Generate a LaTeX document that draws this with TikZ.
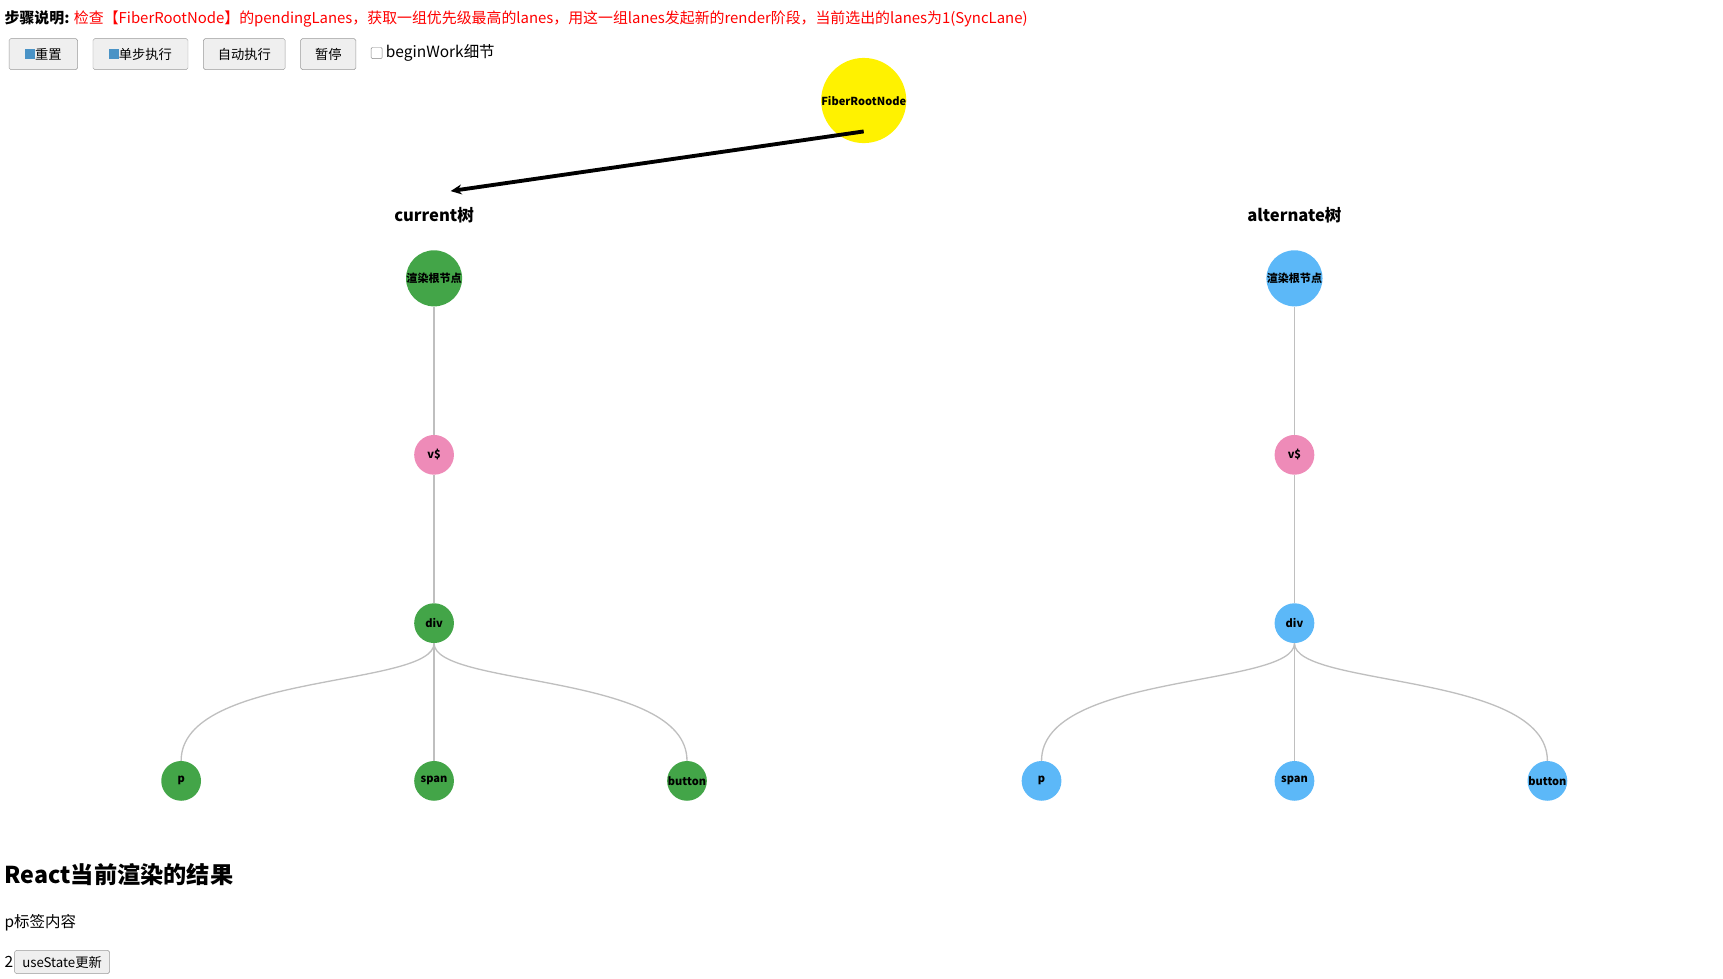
\documentclass[tikz,border=0pt]{standalone}
\usepackage{fontspec}
\setmainfont{Noto Sans CJK SC}
\usepackage{tikz}
\usetikzlibrary{positioning,arrows.meta}
\definecolor{curgreen}{HTML}{43A548}
\definecolor{altblue}{HTML}{5CB8F8}
\definecolor{vpink}{HTML}{EE8BB8}
\definecolor{btngray}{HTML}{EFEFEF}

\begin{document}
\begin{tikzpicture}[x=1pt,y=-1pt,
  fiber/.style={circle,minimum size=36pt,inner sep=0pt,font=\fontsize{10}{12}\selectfont\bfseries},
  treelabel/.style={font=\fontsize{15}{18}\selectfont\bfseries},
  btn/.style={draw=gray!80,fill=btngray,rounded corners=1.5pt,minimum height=28pt,inner sep=0pt,font=\fontsize{12}{14}\selectfont},
  link/.style={draw=gray!50,line width=1.2pt}]
\useasboundingbox (0,0) rectangle (1560,886);

% header
\node[anchor=west,inner sep=0pt,font=\fontsize{13.5}{16}\selectfont] (step) at (4,17)
  {\textbf{步骤说明:} \textcolor{red}{检查【FiberRootNode】的pendingLanes，获取一组优先级最高的lanes，用这一组lanes发起新的render阶段，当前选出的lanes为1(SyncLane)}};
\node[btn,minimum width=62pt,anchor=west] (reset) at (8,49) {\textcolor{altblue!80!black}{\rule{9pt}{9pt}}重置};
\node[btn,minimum width=86pt,anchor=west] (single) at (84,49) {\textcolor{altblue!80!black}{\rule{9pt}{9pt}}单步执行};
\node[btn,minimum width=74pt,anchor=west] (auto) at (184,49) {自动执行};
\node[btn,minimum width=50pt,anchor=west] (pause) at (272,49) {暂停};
\node[draw=gray,rounded corners=1pt,minimum size=10pt,inner sep=0pt] (chk) at (341,48) {};
\node[anchor=west,inner sep=0pt,font=\fontsize{14}{16}\selectfont,right=3pt of chk] (detail) {beginWork细节};

% fiber root
\node[fiber,fill=yellow] (root) at (782,91) {FiberRootNode};
\coordinate (rootbot) at (782,119);
\coordinate (curtop) at (408,173);
\draw[line width=3.5pt,-{Stealth[length=10pt,width=9pt]}] (rootbot) -- (curtop);

% current tree
\node[treelabel] (curlbl) at (393,195) {current树};
\node[fiber,fill=curgreen] (c0) at (393,252) {渲染根节点};
\node[fiber,fill=vpink,below=116pt of c0] (c1) {v\$};
\node[fiber,fill=curgreen,below=116pt of c1] (c2) {div};
\node[fiber,fill=curgreen] (c3) at (164,707) {p};
\node[fiber,fill=curgreen] (c4) at (393,707) {span};
\node[fiber,fill=curgreen] (c5) at (622,707) {button};

% alternate tree
\node[treelabel] (altlbl) at (1172,195) {alternate树};
\node[fiber,fill=altblue] (a0) at (1172,252) {渲染根节点};
\node[fiber,fill=vpink,below=116pt of a0] (a1) {v\$};
\node[fiber,fill=altblue,below=116pt of a1] (a2) {div};
\node[fiber,fill=altblue] (a3) at (943,707) {p};
\node[fiber,fill=altblue] (a4) at (1172,707) {span};
\node[fiber,fill=altblue] (a5) at (1401,707) {button};

\foreach \t in {c,a}{
  \path[link] (\t0) -- (\t1) (\t1) -- (\t2) (\t2) -- (\t4);
  \path[link] (\t2.south) .. controls +(0,40) and +(0,-80) .. (\t3.north);
  \path[link] (\t2.south) .. controls +(0,40) and +(0,-80) .. (\t5.north);
}

% result
\node[anchor=west,inner sep=0pt,font=\fontsize{21}{24}\selectfont\bfseries] (result) at (4,792) {React当前渲染的结果};
\node[anchor=west,inner sep=0pt,font=\fontsize{14}{16}\selectfont] (ptext) at (4,835) {p标签内容};
\node[anchor=west,inner sep=0pt,font=\fontsize{14}{16}\selectfont] (count) at (4,871) {2};
\node[btn,minimum width=86pt,minimum height=21pt,anchor=west] (update) at (13,871) {useState更新};
\end{tikzpicture}
\end{document}
